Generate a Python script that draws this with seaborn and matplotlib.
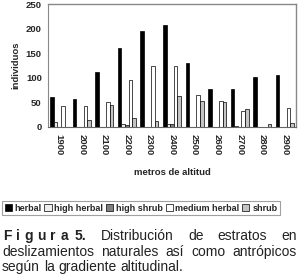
import matplotlib
matplotlib.use("Agg")
import matplotlib.pyplot as plt
import seaborn as sns
import pandas as pd
from matplotlib.patches import Patch

altitudes = ["1900", "2000", "2100", "2200", "2300", "2400", "2500", "2600", "2700", "2800", "2900"]
herbal = [60, 57, 112, 160, 196, 208, 131, 77, 78, 102, 105]
high_herbal = [10, 0, 0, 7, 0, 7, 0, 0, 3, 0, 0]
high_shrub = [0, 0, 0, 4, 0, 6, 0, 0, 0, 0, 0]
medium_herbal = [43, 43, 50, 96, 124, 123, 65, 53, 33, 0, 38]
shrub = [0, 15, 44, 19, 12, 63, 53, 50, 37, 6, 9]
series = ["herbal", "high herbal", "high shrub", "medium herbal", "shrub"]
colors = ["#000000", "#eeeeee", "#808080", "#ffffff", "#c4c4c4"]

rows = []
for name, vals in zip(series, [herbal, high_herbal, high_shrub, medium_herbal, shrub]):
    for a, v in zip(altitudes, vals):
        rows.append({"alt": a, "estrato": name, "n": v})
df = pd.DataFrame(rows)

sns.set_style("white")
plt.rcParams["font.family"] = ["Liberation Sans", "DejaVu Sans"]
tick_size = 6.8
cap_size = 10

fig = plt.figure(figsize=(3.0, 2.75), dpi=100)
ax = fig.add_axes([48/300, 1-127/275, 248/300, 123/275])
sns.barplot(data=df, x="alt", y="n", hue="estrato", order=altitudes, hue_order=series,
            palette=colors, edgecolor="#000000", linewidth=0.5, width=0.8, ax=ax, legend=False)

ax.set_ylim(0, 250)
ax.set_xlim(-0.5, len(altitudes) - 0.5)
ax.set_yticks([0, 50, 100, 150, 200, 250])
ax.set_yticklabels(["0", "50", "100", "150", "200", "250"], fontsize=tick_size, fontweight="bold")
ax.set_xticks(range(len(altitudes)))
ax.set_xticklabels(altitudes, rotation=270, fontsize=tick_size, fontweight="bold")
ax.set_xticks([i + 0.5 for i in range(len(altitudes) - 1)], minor=True)
ax.tick_params(axis="x", which="major", length=0, pad=5)
ax.tick_params(axis="x", which="minor", length=3, width=0.6, color="#666666", direction="out")
ax.tick_params(axis="y", length=3, width=0.6, color="#666666", direction="out", pad=1.5)
ax.set_xlabel("metros de altitud", fontsize=tick_size, fontweight="bold", labelpad=9)
ax.set_ylabel("individuos", fontsize=tick_size, fontweight="bold", labelpad=4)
for side in ["top", "right"]:
    ax.spines[side].set_color("#888888")
    ax.spines[side].set_linewidth(1.0)
ax.spines["left"].set_color("#888888")
ax.spines["bottom"].set_color("#666666")
for s in ax.spines.values():
    s.set_visible(True)

handles = [Patch(facecolor=c, edgecolor="#000000", linewidth=0.5) for c in colors]
leg = fig.legend(handles, series, loc="upper left", bbox_to_anchor=(2/300, 1-201/275), ncol=5,
                 prop={"size": 6.5, "weight": "bold"}, handlelength=0.8, handleheight=0.8,
                 handletextpad=0.3, columnspacing=0.3, borderpad=0.3, borderaxespad=0,
                 frameon=True, fancybox=False)
leg.get_frame().set_edgecolor("#888888")
leg.get_frame().set_linewidth(0.8)

# caption, justified
fig.canvas.draw()
renderer = fig.canvas.get_renderer()
W, H = 300, 275

def width_of(t, weight="normal"):
    tt = fig.text(0, 0, t, fontsize=cap_size, fontweight=weight)
    w = tt.get_window_extent(renderer).width
    tt.remove()
    return w

def place_line(tokens, x0, x1, y, justify=True):
    widths = [width_of(t, wgt) for t, wgt in tokens]
    if justify and len(tokens) > 1:
        gap = (x1 - x0 - sum(widths)) / (len(tokens) - 1)
    else:
        gap = width_of(" ") * 1.0
    x = x0
    for (t, wgt), w in zip(tokens, widths):
        fig.text(x / W, 1 - y / H, t, fontsize=cap_size, fontweight=wgt, color="#222222",
                 va="baseline", ha="left")
        x += w + gap

line1 = [(c, "bold") for c in "Figura"] + [("5.", "bold")]
line1 += [(w, "normal") for w in "Distribución de estratos en".split()]
place_line(line1[:6], 3, 68, 240)
place_line(line1[6:], 75, 297, 240)
place_line([(w, "normal") for w in "deslizamientos naturales así como antrópicos".split()], 2, 297, 256)
place_line([(w, "normal") for w in "según la gradiente altitudinal.".split()], 2, 297, 271, justify=False)

fig.savefig("out.png", dpi=100)
